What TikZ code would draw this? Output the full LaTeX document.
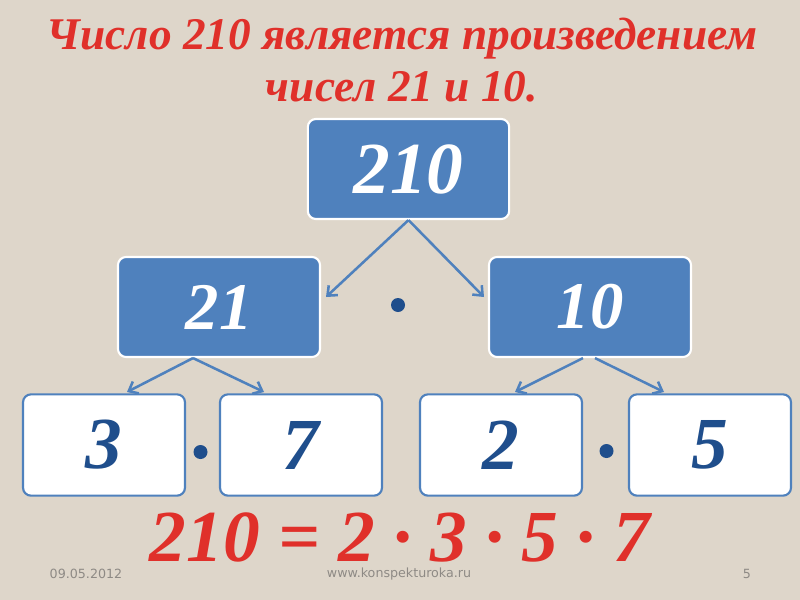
\documentclass[tikz,border=0pt]{standalone}
\usepackage{fontspec}
\setmainfont{Liberation Serif}
\newfontfamily\footfont{DejaVu Sans}
\usetikzlibrary{arrows.meta,calc}
\definecolor{bg}{HTML}{DED6CA}
\definecolor{boxblue}{HTML}{4F81BD}
\definecolor{darkblue}{HTML}{1F4E8C}
\definecolor{titlered}{HTML}{E0302A}
\definecolor{footgray}{HTML}{8E8A85}
\tikzset{
  bluebox/.style={draw=white, line width=1.6pt, fill=boxblue, rounded corners=6pt,
    text=white, font=\bfseries\itshape\fontsize{55}{60}\selectfont, inner sep=0pt},
  whitebox/.style={draw=boxblue, line width=1.6pt, fill=white, rounded corners=6pt,
    text=darkblue, font=\bfseries\itshape\fontsize{55}{60}\selectfont, inner sep=0pt},
  conn/.style={draw=boxblue, line width=1.9pt, -{Straight Barb[length=6pt,width=10pt]}},
  muldot/.style={circle, fill=darkblue, minimum size=10.5pt, inner sep=0pt},
  foot/.style={text=footgray, font=\footfont\fontsize{9.5}{11}\selectfont, inner sep=1pt}
}
\begin{document}
\begin{tikzpicture}[x=0.75pt,y=-0.75pt]
\fill[bg] (0,0) rectangle (800,600);
\useasboundingbox (0,0) rectangle (800,600);
% title
\node[text=titlered, font=\bfseries\itshape\fontsize{34}{39}\selectfont, align=center] (title) at (402,60)
  {Число 210 является произведением\\чисел 21 и 10.};
% boxes
\node[bluebox, minimum width=151pt, minimum height=75pt] (n210) at (408.5,169) {210};
\node[bluebox, minimum width=151.5pt, minimum height=75pt, font=\bfseries\itshape\fontsize{50}{60}\selectfont] (n21) at (219,307) {21};
\node[bluebox, minimum width=151.5pt, minimum height=75pt, font=\bfseries\itshape\fontsize{50}{60}\selectfont] (n10) at (590,307) {10};
\node[whitebox, minimum width=121.5pt, minimum height=76pt] (n3) at (104,445) {3};
\node[whitebox, minimum width=121.5pt, minimum height=76pt] (n7) at (301,445) {7};
\node[whitebox, minimum width=121.5pt, minimum height=76pt] (n2) at (501,445) {2};
\node[whitebox, minimum width=121.5pt, minimum height=76pt] (n5) at (710,445) {5};
% arrow ends
\coordinate (e21) at (326,297);
\coordinate (e10) at (484,297);
\coordinate (e3) at (127,392);
\coordinate (e7) at (264,392);
\coordinate (e2) at (515,392);
\coordinate (e5) at (664,392);
\draw[conn] (n210.south) -- (e21);
\draw[conn] (n210.south) -- (e10);
\draw[conn] ($(n21.south)+(-26,0)$) -- (e3);
\draw[conn] ($(n21.south)+(-26,0)$) -- (e7);
\draw[conn] ($(n10.south)+(-7,0)$) -- (e2);
\draw[conn] ($(n10.south)+(5,0)$) -- (e5);
% multiplication dots
\node[muldot] (d1) at (398,305) {};
\node[muldot] (d2) at (200.5,452) {};
\node[muldot] (d3) at (606.5,451) {};
% equation
\node[text=titlered, font=\bfseries\itshape\fontsize{55}{60}\selectfont, anchor=base, inner sep=0pt, text depth=0pt] (eq) at (400,561) {210 = 2 · 3 · 5 · 7};
% footer
\node[foot] (date) at (86,574) {09.05.2012};
\node[foot] (site) at (399,574) {www.konspekturoka.ru};
\node[foot] (page) at (747,574) {5};
\end{tikzpicture}
\end{document}
